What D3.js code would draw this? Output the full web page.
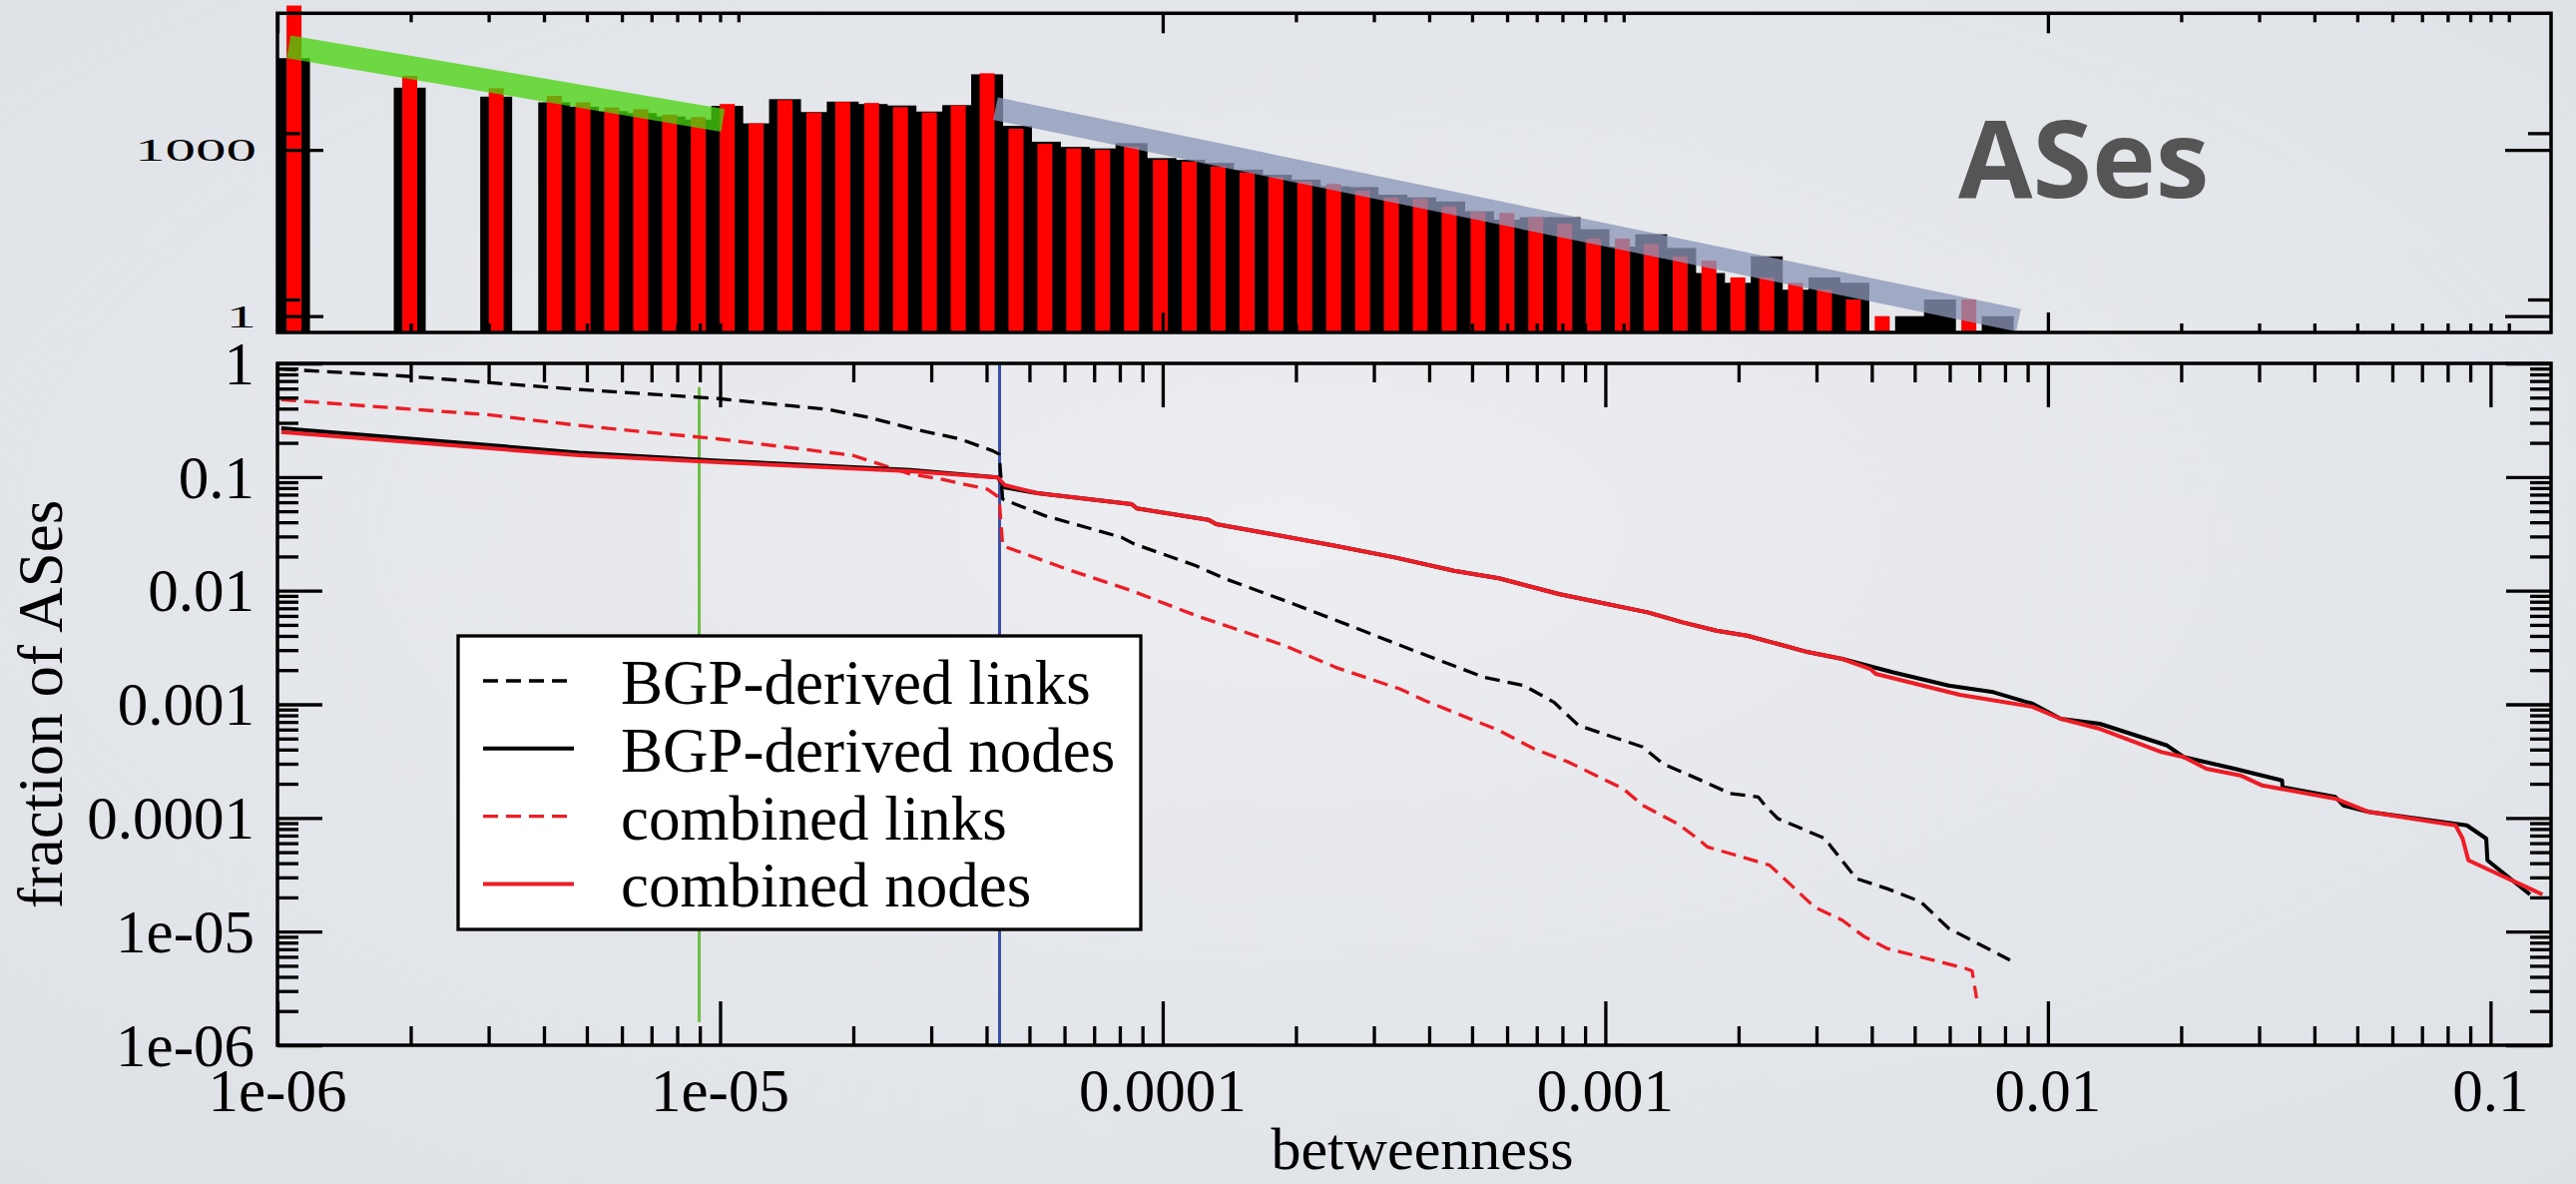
<!DOCTYPE html>
<html>
<head>
<meta charset="utf-8">
<script src="https://cdn.jsdelivr.net/npm/d3@7"></script>
<style>
html, body { margin: 0; padding: 0; overflow: hidden; }
svg { display: block; }
</style>
</head>
<body>
<svg id="chart" width="2581" height="1186"></svg>
<script>
// ---- datos del histograma (panel superior) ----
// centros de los bins logarítmicos no vacíos (betweenness)
const binCenters = [1.09e-6, 1.99e-6, 3.12e-6, 4.22e-6, 4.90e-6, 5.69e-6, 6.62e-6, 7.69e-6, 8.93e-6,
    1.038e-5, 1.206e-5, 1.402e-5, 1.629e-5, 1.893e-5, 2.200e-5, 2.556e-5, 2.971e-5, 3.452e-5, 4.012e-5,
    4.662e-5, 5.418e-5, 6.296e-5, 7.316e-5, 8.502e-5, 9.881e-5, 1.148e-4, 1.334e-4, 1.551e-4, 1.802e-4,
    2.094e-4, 2.433e-4, 2.828e-4, 3.286e-4, 3.819e-4, 4.438e-4, 5.157e-4, 5.993e-4, 6.964e-4, 8.093e-4,
    9.404e-4, 1.093e-3, 1.270e-3, 1.476e-3, 1.715e-3, 1.993e-3, 2.316e-3, 2.691e-3, 3.127e-3, 3.634e-3,
    4.223e-3, 4.907e-3, 5.703e-3, 6.627e-3, 7.701e-3];
const histBGP = [45000, 13200, 9100, 7200, 6000, 5000, 4600, 4000, 3500,
    6200, 3000, 8200, 4800, 7400, 6700, 6300, 4900, 6400, 23000,
    2700, 1400, 1130, 1060, 1320, 710, 660, 580, 440, 355,
    290, 220, 213, 155, 139, 117, 78, 55, 61, 61,
    37, 18, 30, 17, 6, 4, 12, 3, 5, 4,
    0, 1, 2, 0, 1];
const histCombined = [400000, 21500, 12900, 9400, 7200, 5800, 5400, 4300, 3900,
    6700, 3000, 7900, 4700, 7300, 7000, 5900, 4700, 6300, 24000,
    2400, 1280, 1060, 1000, 1150, 660, 610, 500, 390, 323,
    270, 242, 183, 137, 131, 95, 76, 73, 61, 47,
    25, 25, 20, 12, 10, 5, 5, 4, 3, 2,
    1, 0, 0, 2, 0];
// rectas de ajuste (betweenness, cuenta)
const fitGreen = [[1.06e-6, 72000], [1.015e-5, 3400]];
const fitBlue = [[4.19e-5, 5540], [8.58e-3, 0.844]];
const histTickValues = [1, 1000];
const histTickLabels = ["1", "1000"];

// ---- curvas del panel inferior (betweenness, fracción de ASes) ----
const bgpLinks = [[1.02e-6, 0.891], [1.94e-6, 0.773], [2.99e-6, 0.678], [4.8e-6, 0.589], [9.92e-6, 0.49],
    [1.75e-5, 0.394], [2.17e-5, 0.334], [2.69e-5, 0.269], [3.48e-5, 0.216], [4.13e-5, 0.17], [4.27e-5, 0.159],
    [4.35e-5, 0.0639], [5.42e-5, 0.0456], [8.08e-5, 0.0294], [8.63e-5, 0.0257], [1.19e-4, 0.01656],
    [1.39e-4, 0.01266], [1.89e-4, 0.00816], [2.65e-4, 0.00492], [3.61e-4, 0.00307], [5.32e-4, 0.00173],
    [6.55e-4, 0.00146], [7.65e-4, 0.001045], [8.7e-4, 6.51e-4], [9.65e-4, 5.69e-4], [1.215e-3, 4.21e-4],
    [1.35e-3, 3.0e-4], [1.68e-3, 2.07e-4], [1.915e-3, 1.64e-4], [2.215e-3, 1.53e-4], [2.31e-3, 1.25e-4],
    [2.455e-3, 9.86e-5], [2.72e-3, 8.34e-5], [3.14e-3, 6.58e-5], [3.24e-3, 5.56e-5], [3.69e-3, 2.93e-5],
    [4.33e-3, 2.39e-5], [5.16e-3, 1.83e-5], [5.97e-3, 1.066e-5], [8.21e-3, 5.61e-6]];
const bgpNodes = [[1.02e-6, 0.269], [4.8e-6, 0.164], [9.92e-6, 0.1394], [2.69e-5, 0.1157], [4.24e-5, 0.0991],
    [4.4e-5, 0.0809], [5.21e-5, 0.0721], [8.51e-5, 0.0577], [8.74e-5, 0.0529], [1.27e-4, 0.042],
    [1.32e-4, 0.0385], [1.71e-4, 0.0321], [2.455e-4, 0.0248], [3.345e-4, 0.0196], [4.55e-4, 0.01497],
    [5.75e-4, 0.01284], [7.85e-4, 0.00935], [9.65e-4, 0.0079], [1.246e-3, 0.00645], [1.495e-3, 0.00527],
    [1.783e-3, 0.00445], [2.09e-3, 0.00402], [2.875e-3, 0.002874], [3.43e-3, 0.00251], [4.45e-3, 0.00192],
    [5.97e-3, 0.00146], [7.53e-3, 0.00128], [9.24e-3, 0.00101], [1.069e-2, 7.46e-4], [1.31e-2, 6.74e-4],
    [1.86e-2, 4.34e-4], [2.025e-2, 3.44e-4], [2.64e-2, 2.71e-4], [3.38e-2, 2.14e-4], [3.39e-2, 1.87e-4],
    [4.46e-2, 1.53e-4], [4.65e-2, 1.29e-4], [5.31e-2, 1.13e-4], [8.84e-2, 8.61e-5], [9.78e-2, 6.58e-5],
    [9.84e-2, 4.24e-5], [0.1228, 2.12e-5]];
const combinedLinks = [[1.02e-6, 0.479], [2.99e-6, 0.353], [4.8e-6, 0.284], [9.92e-6, 0.216], [1.99e-5, 0.1555],
    [2.69e-5, 0.106], [3.11e-5, 0.097], [4.02e-5, 0.0781], [4.27e-5, 0.0661], [4.35e-5, 0.0248],
    [6.07e-5, 0.0155], [8.51e-5, 0.00999], [1.19e-4, 0.00603], [1.89e-4, 0.00328], [2.455e-4, 0.00212],
    [3.43e-4, 0.001368], [3.91e-4, 0.00108], [5.75e-4, 5.89e-4], [6.9e-4, 4.06e-4], [8.26e-4, 3.1e-4],
    [1.097e-3, 1.81e-4], [1.215e-3, 1.29e-4], [1.457e-3, 8.9e-5], [1.616e-3, 6.58e-5], [1.7e-3, 5.56e-5],
    [1.915e-3, 4.86e-5], [2.35e-3, 3.84e-5], [2.49e-3, 3.13e-5], [2.965e-3, 1.65e-5], [3.43e-3, 1.26e-5],
    [3.85e-3, 9.01e-6], [4.33e-3, 7.11e-6], [6.5e-3, 4.75e-6], [6.74e-3, 4.51e-6], [6.9e-3, 2.59e-6]];
const combinedNodes = [[1.02e-6, 0.249], [4.8e-6, 0.1555], [9.92e-6, 0.1348], [2.69e-5, 0.1127], [4.24e-5, 0.0991],
    [4.4e-5, 0.0848], [5.21e-5, 0.0721], [8.51e-5, 0.0577], [8.74e-5, 0.0529], [1.27e-4, 0.042],
    [1.32e-4, 0.0385], [1.71e-4, 0.0321], [2.455e-4, 0.0248], [3.345e-4, 0.0196], [4.55e-4, 0.01497],
    [5.75e-4, 0.01284], [7.85e-4, 0.00935], [9.65e-4, 0.0079], [1.246e-3, 0.00645], [1.495e-3, 0.00527],
    [1.783e-3, 0.00445], [2.09e-3, 0.00402], [2.875e-3, 0.002874], [3.43e-3, 0.00251], [3.97e-3, 0.00205],
    [4.085e-3, 0.001852], [6.33e-3, 0.001212], [9.24e-3, 9.5e-4], [1.069e-2, 7.46e-4], [1.31e-2, 6.09e-4],
    [1.806e-2, 3.8e-4], [2.025e-2, 3.44e-4], [2.28e-2, 2.71e-4], [2.72e-2, 2.37e-4], [3.05e-2, 1.93e-4],
    [4.46e-2, 1.48e-4], [5.31e-2, 1.13e-4], [8.34e-2, 8.61e-5], [8.65e-2, 6.58e-5], [8.91e-2, 4.24e-5],
    [0.131, 2.12e-5]];
// marcadores verticales
const greenMarker = [[8.97e-6, 0.62], [8.97e-6, 1.6e-6]];
const blueMarker = [[4.28e-5, 1], [4.28e-5, 1e-6]];

const xTickValues = [1e-6, 1e-5, 1e-4, 1e-3, 1e-2, 1e-1];
const xTickLabels = ["1e-06", "1e-05", "0.0001", "0.001", "0.01", "0.1"];
const yTickValues = [1, 0.1, 0.01, 0.001, 1e-4, 1e-5, 1e-6];
const yTickLabels = ["1", "0.1", "0.01", "0.001", "0.0001", "1e-05", "1e-06"];

const legendItems = [
    {label: "BGP-derived links", color: "#000", dash: "15,8", width: 3.3},
    {label: "BGP-derived nodes", color: "#000", dash: null, width: 4},
    {label: "combined links", color: "#ee1c24", dash: "15,8", width: 3.3},
    {label: "combined nodes", color: "#ee1c24", dash: null, width: 4}
];

// ---- geometría ----
const W = 2581, H = 1186;
const left = 278, right = 2556;
const top1 = 13.3, bot1 = 333;     // panel del histograma
const top2 = 364, bot2 = 1047;     // panel de las curvas
const serif = "'Liberation Serif', 'Times New Roman', serif";

const svg = d3.select("#chart");

// fondo de diapositiva
const defs = svg.append("defs");
const grad = defs.append("radialGradient").attr("id", "bg")
    .attr("cx", "50%").attr("cy", "45%").attr("r", "75%");
grad.append("stop").attr("offset", "0%").attr("stop-color", "#eceef1");
grad.append("stop").attr("offset", "100%").attr("stop-color", "#dde0e5");
svg.append("rect").attr("width", W).attr("height", H).attr("fill", "url(#bg)");

// escalas
const x = d3.scaleLog().domain([1e-6, 0.137]).range([left, right]);
const yHist = d3.scaleLog().domain([0.509, 2.9e5]).range([bot1, top1]);
const y = d3.scaleLog().domain([1e-6, 1]).range([bot2, top2]);

// dibuja ticks hacia dentro con d3.axis
function ticks(axisFn, scale, values, size, transform) {
    svg.append("g")
        .attr("transform", transform)
        .call(axisFn(scale).tickValues(values).tickSize(-size).tickFormat(""))
        .call(g => g.select(".domain").remove())
        .call(g => g.selectAll("line").attr("stroke", "#000").attr("stroke-width", 3.3));
}

function minorLog(lo, hi, ks) {
    const out = [];
    for (let e = Math.floor(Math.log10(lo)); e <= Math.ceil(Math.log10(hi)); e++) {
        ks.forEach(k => {
            const v = k * Math.pow(10, e);
            if (v > lo * 1.0001 && v < hi) out.push(v);
        });
    }
    return out;
}

// ================= PANEL SUPERIOR: histograma =================
function drawHistogram() {
    const hist = binCenters.map((c, i) => ({c: c, bgp: histBGP[i], comb: histCombined[i]}));

    svg.selectAll(".bar-bgp")
        .data(hist.filter(d => d.bgp > 0))
        .enter().append("rect")
        .attr("class", "bar-bgp")
        .attr("x", d => x(d.c) - 16)
        .attr("width", 32)
        .attr("y", d => yHist(d.bgp))
        .attr("height", d => bot1 - yHist(d.bgp))
        .attr("fill", "#000");

    svg.selectAll(".bar-comb")
        .data(hist.filter(d => d.comb > 0))
        .enter().append("rect")
        .attr("class", "bar-comb")
        .attr("x", d => x(d.c) - 7.5)
        .attr("width", 15)
        .attr("y", d => yHist(d.comb))
        .attr("height", d => bot1 - yHist(d.comb))
        .attr("fill", "#ff0000");

    // bandas de ajuste translúcidas
    const band = d3.line().x(d => x(d[0])).y(d => yHist(d[1]));
    svg.append("path").attr("d", band(fitGreen))
        .attr("fill", "none").attr("stroke", "rgb(72,212,13)")
        .attr("stroke-opacity", 0.76).attr("stroke-width", 23);
    svg.append("path").attr("d", band(fitBlue))
        .attr("fill", "none").attr("stroke", "rgb(140,151,184)")
        .attr("stroke-opacity", 0.77).attr("stroke-width", 23);

    // ticks
    const xMaj = [1e-6, 1e-4, 1e-2];
    const xMin = [];
    xMaj.forEach(m => d3.range(2, 12).forEach(k => { if (k * m < 0.137) xMin.push(k * m); }));
    ticks(d3.axisTop, x, xMaj, 20, `translate(0,${top1})`);
    ticks(d3.axisTop, x, xMin, 9, `translate(0,${top1})`);
    ticks(d3.axisBottom, x, xMaj, 20, `translate(0,${bot1})`);
    ticks(d3.axisBottom, x, xMin, 9, `translate(0,${bot1})`);
    ticks(d3.axisLeft, yHist, histTickValues, 46, `translate(${left},0)`);
    ticks(d3.axisLeft, yHist, [2, 2000], 23, `translate(${left},0)`);
    ticks(d3.axisRight, yHist, histTickValues, 46, `translate(${right},0)`);
    ticks(d3.axisRight, yHist, [2, 2000], 23, `translate(${right},0)`);

    // marco
    svg.append("rect").attr("x", left).attr("y", top1)
        .attr("width", right - left).attr("height", bot1 - top1)
        .attr("fill", "none").attr("stroke", "#000").attr("stroke-width", 3.5);

    // etiquetas (aplastadas verticalmente como en la diapositiva)
    svg.selectAll(".hist-label")
        .data(histTickValues)
        .enter().append("text")
        .attr("class", "hist-label")
        .attr("transform", d => `translate(257,${yHist(d)}) scale(1,0.53)`)
        .attr("dy", "0.34em")
        .attr("text-anchor", "end")
        .attr("font-family", serif)
        .attr("font-size", 61)
        .attr("fill", "#000")
        .text((d, i) => histTickLabels[i]);

    svg.append("text")
        .attr("x", 1962).attr("y", 198)
        .attr("font-family", "'Open Sans', 'DejaVu Sans', sans-serif")
        .attr("font-weight", 700)
        .attr("font-size", 108)
        .attr("fill", "#555555")
        .text("ASes");
}

// ================= PANEL INFERIOR: curvas =================
function drawCurves() {
    const line = d3.line().x(d => x(d[0])).y(d => y(d[1]));

    svg.append("path").attr("d", line(greenMarker))
        .attr("stroke", "#6dbf45").attr("stroke-width", 3).attr("fill", "none");
    svg.append("path").attr("d", line(blueMarker))
        .attr("stroke", "#3a4fa8").attr("stroke-width", 3).attr("fill", "none");

    const series = [bgpLinks, bgpNodes, combinedLinks, combinedNodes];
    const order = [0, 2, 1, 3];
    order.forEach(i => {
        const st = legendItems[i];
        svg.append("path")
            .attr("d", line(series[i]))
            .attr("fill", "none")
            .attr("stroke", st.color)
            .attr("stroke-width", st.width)
            .attr("stroke-dasharray", st.dash)
            .attr("stroke-linejoin", "round");
    });

    // ticks
    const xMin = minorLog(1e-6, 0.137, d3.range(2, 10));
    const yMin = minorLog(1e-6, 1, d3.range(2, 10));
    ticks(d3.axisBottom, x, xTickValues, 44, `translate(0,${bot2})`);
    ticks(d3.axisBottom, x, xMin, 19, `translate(0,${bot2})`);
    ticks(d3.axisTop, x, xTickValues, 44, `translate(0,${top2})`);
    ticks(d3.axisTop, x, xMin, 19, `translate(0,${top2})`);
    ticks(d3.axisLeft, y, yTickValues, 45, `translate(${left},0)`);
    ticks(d3.axisLeft, y, yMin, 21, `translate(${left},0)`);
    ticks(d3.axisRight, y, yTickValues, 45, `translate(${right},0)`);
    ticks(d3.axisRight, y, yMin, 21, `translate(${right},0)`);

    svg.append("rect").attr("x", left).attr("y", top2)
        .attr("width", right - left).attr("height", bot2 - top2)
        .attr("fill", "none").attr("stroke", "#000").attr("stroke-width", 3.5);

    // leyenda
    const lg = svg.append("g");
    lg.append("rect").attr("x", 459).attr("y", 637).attr("width", 684).attr("height", 294)
        .attr("fill", "#fff").attr("stroke", "#000").attr("stroke-width", 3.3);
    legendItems.forEach((d, i) => {
        const ry = 682 + i * 67.8;
        lg.append("line").attr("x1", 484).attr("x2", 575).attr("y1", ry).attr("y2", ry)
            .attr("stroke", d.color).attr("stroke-width", d.width)
            .attr("stroke-dasharray", d.dash);
        lg.append("text").attr("x", 622).attr("y", ry + 23)
            .attr("font-family", serif).attr("font-size", 63).attr("fill", "#000")
            .text(d.label);
    });

    // etiquetas de los ejes
    svg.selectAll(".xlab").data(xTickValues).enter().append("text")
        .attr("class", "xlab")
        .attr("x", d => x(d)).attr("y", 1113)
        .attr("text-anchor", "middle")
        .attr("font-family", serif).attr("font-size", 61)
        .text((d, i) => xTickLabels[i]);
    svg.selectAll(".ylab").data(yTickValues).enter().append("text")
        .attr("class", "ylab")
        .attr("x", 255).attr("y", d => y(d)).attr("dy", "0.34em")
        .attr("text-anchor", "end")
        .attr("font-family", serif).attr("font-size", 61)
        .text((d, i) => yTickLabels[i]);

    svg.append("text")
        .attr("x", 1425).attr("y", 1171)
        .attr("text-anchor", "middle")
        .attr("font-family", serif).attr("font-size", 60)
        .text("betweenness");
    svg.append("text")
        .attr("transform", `translate(62,${(top2 + bot2) / 2}) rotate(-90)`)
        .attr("text-anchor", "middle")
        .attr("font-family", serif).attr("font-size", 63)
        .text("fraction of ASes");
}

drawHistogram();
drawCurves();
</script>
</body>
</html>
